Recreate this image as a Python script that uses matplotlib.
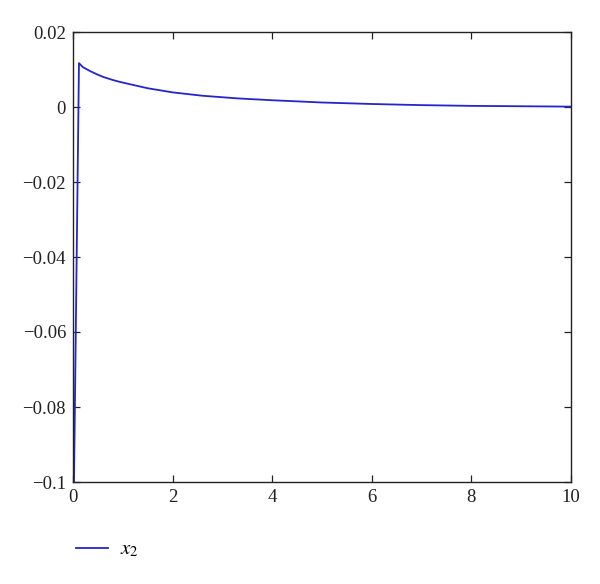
import matplotlib
matplotlib.use('Agg')
import matplotlib.pyplot as plt
from matplotlib.ticker import FixedLocator, FuncFormatter

plt.rcParams['font.family'] = ['Liberation Serif', 'DejaVu Serif']
plt.rcParams['mathtext.fontset'] = 'stix'

# values
t = [0.02, 0.12, 0.2, 0.34, 0.5, 0.61, 0.8, 0.94, 1.2, 1.5, 2.0, 2.6, 3.3,
     4.0, 5.0, 6.0, 7.0, 8.0, 9.0, 10.0]
x2 = [-0.1, 0.0117, 0.0106, 0.0096, 0.0086, 0.0080, 0.0072, 0.0067, 0.0059,
      0.0050, 0.0039, 0.0030, 0.0023, 0.0018, 0.0012, 0.0008, 0.0005,
      0.0003, 0.0002, 0.0001]

xticks = [0, 2, 4, 6, 8, 10]
yticks = [-0.1, -0.08, -0.06, -0.04, -0.02, 0, 0.02]

fig = plt.figure(figsize=(6.0, 5.84), dpi=100)
ax = fig.add_axes([73 / 600, 1 - 482 / 584, 498 / 600, 450 / 584])

line, = ax.plot(t, x2, color='#2424d0', lw=1.3, label='$x_2$')

ax.set_xlim(0, 10)
ax.set_ylim(-0.1, 0.02)
ax.xaxis.set_major_locator(FixedLocator(xticks))
ax.yaxis.set_major_locator(FixedLocator(yticks))


def fmt(v, pos):
    if abs(v) < 1e-12:
        return '0'
    s = ('%.2f' % abs(v)).rstrip('0')
    return ('\u2212' + s) if v < 0 else s


ax.yaxis.set_major_formatter(FuncFormatter(fmt))
ax.tick_params(direction='in', length=5, width=0.9, top=True, right=True,
               labelsize=13.5, colors='#222222', pad=5)
for sp in ax.spines.values():
    sp.set_linewidth(1.0)
    sp.set_color('#222222')

fig.legend(handles=[line], loc='center left', bbox_to_anchor=(57 / 600, 1 - 550 / 584),
           frameon=False, fontsize=15, handlelength=1.55, handletextpad=0.55)

fig.savefig('out.png', dpi=100)
